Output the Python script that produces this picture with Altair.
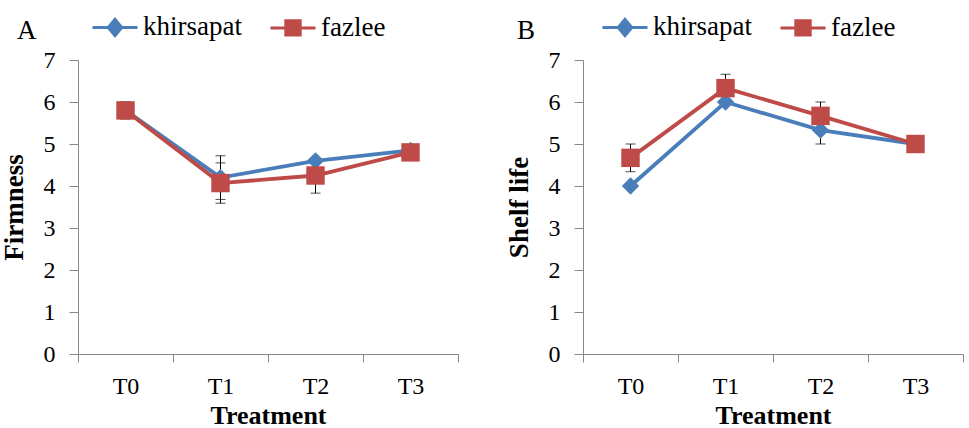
import altair as alt
import pandas as pd

treatments = ["T0", "T1", "T2", "T3"]
series_names = ["khirsapat", "fazlee"]
series_colors = ["#4A7EBB", "#BE4B48"]

# Panel A: Firmness
firm_khirsapat = [5.8, 4.2, 4.6, 4.85]
firm_khirsapat_err = [0.2, 0.52, 0.05, 0.05]
firm_fazlee = [5.8, 4.07, 4.25, 4.8]
firm_fazlee_err = [0.2, 0.48, 0.42, 0.05]

# Panel B: Shelf life
shelf_khirsapat = [4.0, 6.0, 5.33, 5.0]
shelf_khirsapat_err = [0.0, 0.0, 0.33, 0.0]
shelf_fazlee = [4.67, 6.33, 5.67, 5.0]
shelf_fazlee_err = [0.33, 0.33, 0.33, 0.0]

SERIF = "Liberation Serif"
AXIS_GREY = "#868686"

# legend symbols: a line segment with the marker on it
diamond_path = "M-1,0L1,0M0,-0.36L0.3,0L0,0.36L-0.3,0Z"
square_path = "M-1,0L1,0M-0.32,-0.32L0.32,-0.32L0.32,0.32L-0.32,0.32Z"


def make_df(k, ke, f, fe):
    rows = []
    for name, vals, errs in [("khirsapat", k, ke), ("fazlee", f, fe)]:
        for t, v, e in zip(treatments, vals, errs):
            rows.append({"treatment": t, "series": name, "value": v,
                         "lo": v - e, "hi": v + e})
    return pd.DataFrame(rows)


def panel(df, ytitle, letter, legend_x, legend_y, title_pad):
    cscale = alt.Scale(domain=series_names, range=series_colors)
    x = alt.X("treatment:N", sort=treatments, bandPosition=0.5,
              scale=alt.Scale(type="band", domain=treatments,
                              paddingInner=0, paddingOuter=0),
              axis=alt.Axis(title="Treatment", labelAngle=0, tickBand="extent",
                            tickSize=8, tickColor=AXIS_GREY, domainColor=AXIS_GREY,
                            labelFont=SERIF, labelFontSize=24, labelColor="black",
                            labelPadding=12, titleFont=SERIF, titleFontSize=26,
                            titleFontWeight="bold", titleColor="black",
                            titlePadding=4))
    yscale = alt.Scale(domain=[0, 7], nice=False, zero=True)
    y = alt.Y("value:Q", scale=yscale,
              axis=alt.Axis(title=ytitle, values=list(range(8)), grid=False,
                            tickSize=9, tickColor=AXIS_GREY, domainColor=AXIS_GREY,
                            labelFont=SERIF, labelFontSize=24, labelColor="black",
                            labelPadding=14, titleFont=SERIF, titleFontSize=27,
                            titleFontWeight="bold", titleColor="black",
                            titlePadding=15))
    base = alt.Chart(df)

    def leg():
        return alt.Legend(
            title=letter, orient="none", legendX=legend_x, legendY=legend_y,
            direction="horizontal", titleOrient="left", titleFont=SERIF,
            titleFontSize=27, titleFontWeight="normal", titleColor="black",
            titlePadding=title_pad, titleBaseline="line-top", titleLineHeight=18,
            labelFont=SERIF, labelFontSize=27, labelColor="black",
            labelOffset=4, columnPadding=22, symbolSize=2025,
            symbolStrokeWidth=3, padding=0)

    # legend carrier: draws nothing, only provides the legend
    carrier = base.transform_filter("false").mark_point(
        filled=True, opacity=1, strokeWidth=3).encode(
        color=alt.Color("series:N", scale=cscale, legend=leg()),
        stroke=alt.Stroke("series:N", scale=cscale, legend=leg()),
        shape=alt.Shape("series:N",
                        scale=alt.Scale(domain=series_names,
                                        range=[diamond_path, square_path]),
                        legend=leg()))

    layers = [carrier]
    err_rule = base.mark_rule(color="black", strokeWidth=1).encode(
        x=x, y=alt.Y("lo:Q", scale=yscale), y2="hi:Q")
    err_lo = base.mark_tick(color="black", thickness=1, size=10).encode(
        x=x, y=alt.Y("lo:Q", scale=yscale))
    err_hi = base.mark_tick(color="black", thickness=1, size=10).encode(
        x=x, y=alt.Y("hi:Q", scale=yscale))
    layers += [err_rule, err_lo, err_hi]
    for name, col in zip(series_names, series_colors):
        sub = base.transform_filter(alt.datum.series == name)
        layers.append(sub.mark_line(strokeWidth=3.8, color=col).encode(x=x, y=y))
    for name, col in zip(series_names, series_colors):
        sub = base.transform_filter(alt.datum.series == name)
        if name == "khirsapat":
            layers.append(sub.mark_point(shape="diamond", filled=True, size=300,
                                         opacity=1, color=col).encode(x=x, y=y))
        else:
            layers.append(sub.mark_square(size=340, opacity=1, color=col)
                          .encode(x=x, y=y))
    return alt.layer(*layers).properties(width=380, height=294)


dfA = make_df(firm_khirsapat, firm_khirsapat_err, firm_fazlee, firm_fazlee_err)
dfB = make_df(shelf_khirsapat, shelf_khirsapat_err, shelf_fazlee, shelf_fazlee_err)

pA = panel(dfA, "Firmness", "A", -61, -57, 54)
pB = panel(dfB, "Shelf life", "B", -66, -57, 65)

chart = alt.hconcat(pA, pB, spacing=46).resolve_scale(
    color="independent", stroke="independent", shape="independent",
    x="independent", y="independent").resolve_legend(
    color="independent", stroke="independent", shape="independent").properties(
    padding={"left": 0, "top": 3, "right": 0, "bottom": 0},
    background="white").configure_view(stroke=None).configure_legend(
    labelFont=SERIF, labelFontSize=27, labelColor="black",
    titleFont=SERIF, titleFontSize=27, titleFontWeight="normal")
chart.config.style = {"guide-label": {"font": SERIF, "fontSize": 27, "fill": "black"}}

chart.save("out.html", embed_options={"renderer": "svg", "actions": False})
